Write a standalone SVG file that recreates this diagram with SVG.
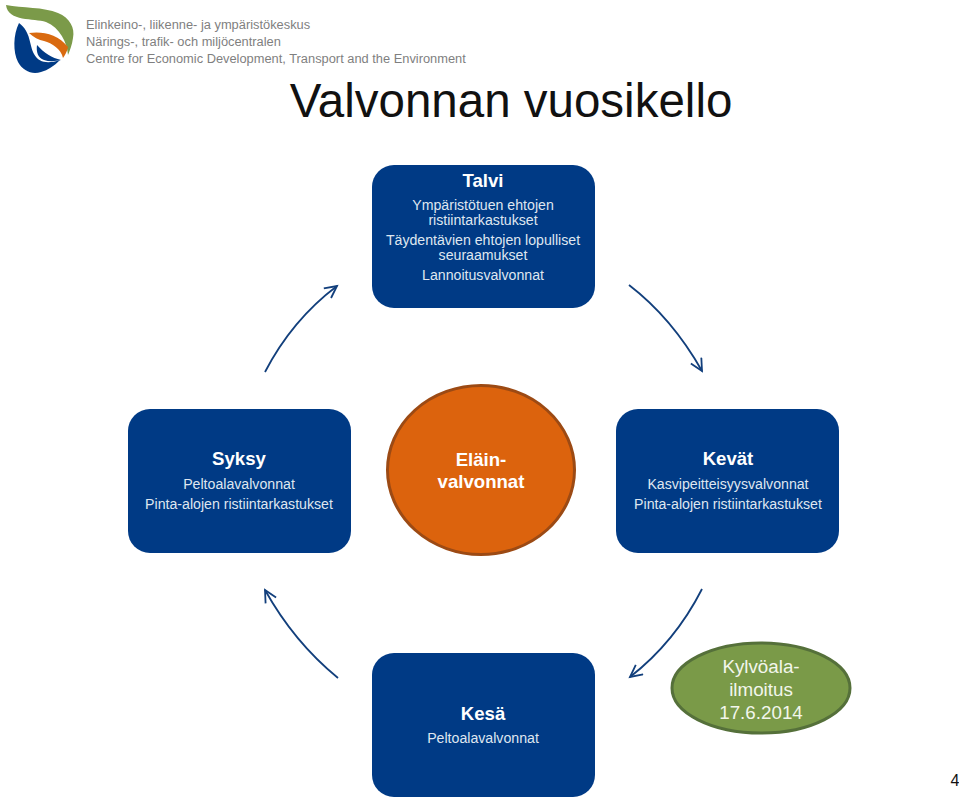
<svg xmlns="http://www.w3.org/2000/svg" width="959" height="803" viewBox="0 0 959 803">
<style>
text{font-family:"Liberation Sans",Arial,sans-serif;text-anchor:middle}
.b{fill:#003a85}
.h{fill:#fff;font-size:18.600px;font-weight:bold}
.t{fill:#dfe6f0;font-size:14.150px}
.l{fill:#7f7f7f;font-size:12.850px;text-anchor:start}
.c{fill:none;stroke:#123f7c;stroke-width:1.8}
.g{font-size:18.800px;fill:#f2f6ec}
</style>
<defs><marker id="a" markerUnits="userSpaceOnUse" markerWidth="16" markerHeight="16" refX="13" refY="7" orient="auto"><path d="M1 1L13 7L1 13" fill="none" stroke="#123f7c" stroke-width="1.8"/></marker></defs>
<g id="logo">
<path d="M6 5C22 8 44 7 58 13C70 18 75 28 73 38C72 45 70 50 68 55C67 42 60 28 46 22C34 18 8 22 6 5Z" fill="#7b9a49"/>
<path d="M19 23C13 35 13 52 18 62C23 71 32 75 41 72C48 70 54 66 60 60C48 64 39 63 34 54C29 44 31 32 19 23Z" fill="#003a85"/>
<path d="M29 33C42 31 58 34 68 47C67 52 65 55 63 58C61 49 52 43 44 41C39 40 33 37 29 33Z" fill="#d96a10"/>
<path d="M37 45C36 52 38 58 44 60C50 62 56 61 61 60C52 58 44 53 37 45Z" fill="#003a85"/>
<text class="l" x="86" y="29">Elinkeino-, liikenne- ja ympäristökeskus</text>
<text class="l" x="86" y="46">Närings-, trafik- och miljöcentralen</text>
<text class="l" x="86" y="63">Centre for Economic Development, Transport and the Environment</text>
</g>
<text id="title" x="511" y="117" font-size="47.500" fill="#111">Valvonnan vuosikello</text>
<g id="connectors">
<path class="c" marker-end="url(#a)" d="M265 372Q292 320 337 286"/>
<path class="c" marker-end="url(#a)" d="M629 285Q672 318 702 371"/>
<path class="c" marker-end="url(#a)" d="M702 589Q675 642 630 677"/>
<path class="c" marker-end="url(#a)" d="M338 678Q294 642 265 590"/>
</g>
<g id="talvi"><rect class="b" x="372" y="165" width="223" height="143" rx="22"/>
<text class="h" x="483" y="187">Talvi</text>
<text class="t" x="483" y="210">Ympäristötuen ehtojen</text><text class="t" x="483" y="225">ristiintarkastukset</text>
<text class="t" x="483" y="245">Täydentävien ehtojen lopulliset</text><text class="t" x="483" y="260">seuraamukset</text>
<text class="t" x="483" y="280">Lannoitusvalvonnat</text></g>
<g id="syksy"><rect class="b" x="128" y="409" width="223" height="144" rx="22"/>
<text class="h" x="239" y="465">Syksy</text>
<text class="t" x="239" y="489">Peltoalavalvonnat</text>
<text class="t" x="239" y="509">Pinta-alojen ristiintarkastukset</text></g>
<g id="elain"><ellipse cx="481" cy="470" rx="93.500" ry="84.500" fill="#dc630d" stroke="#9c4a14" stroke-width="3"/>
<text class="h" x="481" y="466">Eläin-</text><text class="h" x="481" y="488">valvonnat</text></g>
<g id="kevat"><rect class="b" x="616" y="409" width="223" height="144" rx="22"/>
<text class="h" x="728" y="465">Kevät</text>
<text class="t" x="728" y="489">Kasvipeitteisyysvalvonnat</text>
<text class="t" x="728" y="509">Pinta-alojen ristiintarkastukset</text></g>
<g id="kesa"><rect class="b" x="372" y="653" width="223" height="144" rx="22"/>
<text class="h" x="483" y="720">Kesä</text>
<text class="t" x="483" y="743">Peltoalavalvonnat</text></g>
<g id="kylvo"><ellipse cx="761" cy="688" rx="89" ry="45" fill="#7a9a48" stroke="#55703a" stroke-width="3"/>
<text class="g" x="761" y="673">Kylvöala-</text><text class="g" x="761" y="696">ilmoitus</text><text class="g" x="761" y="719">17.6.2014</text></g>
<text id="page" x="955" y="786" font-size="16" fill="#111">4</text>
</svg>
